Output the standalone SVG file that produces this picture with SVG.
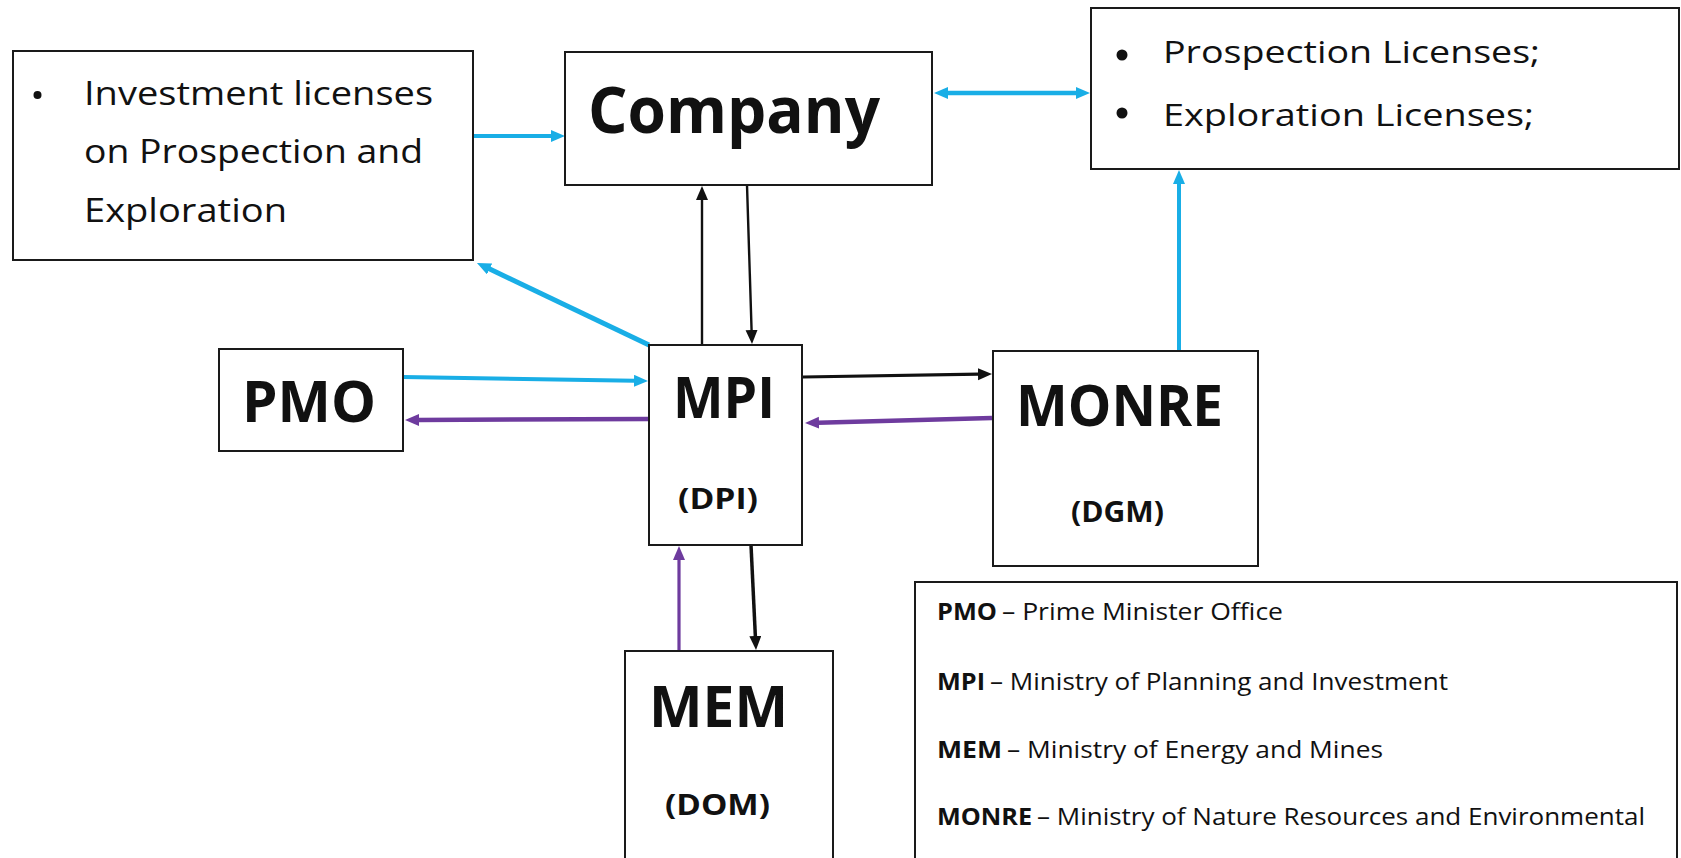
<svg xmlns="http://www.w3.org/2000/svg" width="1681" height="858" viewBox="0 0 1681 858">
<style>
.box{fill:#fff;stroke:#1a1a1a;stroke-width:2}
.t{font-family:"Open Sans","Liberation Sans",sans-serif;fill:#111}
.b{font-weight:bold}
.cy{stroke:#19aee6;fill:none}
.pu{stroke:#6e3b9e;fill:none}
.bk{stroke:#111;fill:none}
</style>
<defs>
<marker id="ac" markerUnits="userSpaceOnUse" markerWidth="15" markerHeight="13" refX="1" refY="6" orient="auto-start-reverse"><path d="M0,0 L14,6 L0,12 z" fill="#19aee6"/></marker>
<marker id="ap" markerUnits="userSpaceOnUse" markerWidth="15" markerHeight="13" refX="1" refY="6" orient="auto-start-reverse"><path d="M0,0 L14,6 L0,12 z" fill="#6e3b9e"/></marker>
<marker id="ak" markerUnits="userSpaceOnUse" markerWidth="15" markerHeight="13" refX="1" refY="6" orient="auto-start-reverse"><path d="M0,0 L14,6 L0,12 z" fill="#111"/></marker>
</defs>
<rect width="1681" height="858" fill="#fff"/>

<g id="connectors">
<line class="cy" stroke-width="4" x1="474" y1="136" x2="552" y2="136" marker-end="url(#ac)"/>
<line class="cy" stroke-width="4.5" x1="947" y1="93" x2="1077" y2="93" marker-start="url(#ac)" marker-end="url(#ac)"/>
<line class="cy" stroke-width="5" x1="649" y1="345" x2="488.7" y2="268.6" marker-end="url(#ac)"/>
<line class="bk" stroke-width="2.4" x1="702" y1="345" x2="702" y2="199" marker-end="url(#ak)"/>
<line class="bk" stroke-width="2.4" x1="747" y1="185" x2="751.6" y2="331" marker-end="url(#ak)"/>
<line class="cy" stroke-width="4" x1="403" y1="377" x2="635" y2="380.8" marker-end="url(#ac)"/>
<line class="pu" stroke-width="4.5" x1="648" y1="419" x2="418" y2="420" marker-end="url(#ap)"/>
<line class="bk" stroke-width="3.2" x1="803" y1="377" x2="979" y2="374.2" marker-end="url(#ak)"/>
<line class="pu" stroke-width="4.5" x1="992" y1="418" x2="818" y2="422.7" marker-end="url(#ap)"/>
<line class="cy" stroke-width="4" x1="1179" y1="351" x2="1179" y2="183" marker-end="url(#ac)"/>
<line class="pu" stroke-width="3.2" x1="679" y1="651" x2="679" y2="559" marker-end="url(#ap)"/>
<line class="bk" stroke-width="3.5" x1="751" y1="545" x2="755.4" y2="637" marker-end="url(#ak)"/>
</g>

<g id="investment">
<rect class="box" x="13" y="51" width="460" height="209"/>
<circle cx="37.5" cy="95" r="4" fill="#111"/>
<text class="t" x="84" y="105" font-size="32" textLength="349" lengthAdjust="spacingAndGlyphs">Investment licenses</text>
<text class="t" x="84" y="163" font-size="32" textLength="339" lengthAdjust="spacingAndGlyphs">on Prospection and</text>
<text class="t" x="84" y="222" font-size="32" textLength="203" lengthAdjust="spacingAndGlyphs">Exploration</text>
</g>

<g id="company">
<rect class="box" x="565" y="52" width="367" height="133"/>
<text class="t b" x="588" y="133" font-size="64" textLength="292" lengthAdjust="spacingAndGlyphs">Company</text>
</g>

<g id="licenses">
<rect class="box" x="1091" y="8" width="588" height="161"/>
<circle cx="1122" cy="55" r="5.5" fill="#111"/>
<circle cx="1122" cy="113" r="5.5" fill="#111"/>
<text class="t" x="1163" y="63" font-size="31" textLength="377" lengthAdjust="spacingAndGlyphs">Prospection Licenses;</text>
<text class="t" x="1163" y="126" font-size="31" textLength="371" lengthAdjust="spacingAndGlyphs">Exploration Licenses;</text>
</g>

<g id="pmo">
<rect class="box" x="219" y="349" width="184" height="102"/>
<text class="t b" x="242" y="422" font-size="57" textLength="134" lengthAdjust="spacingAndGlyphs">PMO</text>
</g>

<g id="mpi">
<rect class="box" x="649" y="345" width="153" height="200"/>
<text class="t b" x="673" y="418" font-size="57" textLength="102" lengthAdjust="spacingAndGlyphs">MPI</text>
<text class="t b" x="678" y="509" font-size="29" textLength="80" lengthAdjust="spacingAndGlyphs">(DPI)</text>
</g>

<g id="monre">
<rect class="box" x="993" y="351" width="265" height="215"/>
<text class="t b" x="1016" y="426" font-size="57" textLength="207" lengthAdjust="spacingAndGlyphs">MONRE</text>
<text class="t b" x="1071" y="522" font-size="29" textLength="93" lengthAdjust="spacingAndGlyphs">(DGM)</text>
</g>

<g id="mem">
<rect class="box" x="625" y="651" width="208" height="230"/>
<text class="t b" x="649" y="727" font-size="57" textLength="139" lengthAdjust="spacingAndGlyphs">MEM</text>
<text class="t b" x="665" y="815" font-size="29" textLength="105" lengthAdjust="spacingAndGlyphs">(DOM)</text>
</g>

<g id="legend">
<rect class="box" x="915" y="582" width="762" height="300"/>
<text class="t b" x="937" y="620" font-size="24" textLength="60" lengthAdjust="spacingAndGlyphs">PMO</text>
<text class="t" x="1002" y="620" font-size="24" textLength="281" lengthAdjust="spacingAndGlyphs">– Prime Minister Office</text>
<text class="t b" x="937" y="690" font-size="24" textLength="48" lengthAdjust="spacingAndGlyphs">MPI</text>
<text class="t" x="990" y="690" font-size="24" textLength="458" lengthAdjust="spacingAndGlyphs">– Ministry of Planning and Investment</text>
<text class="t b" x="937" y="758" font-size="24" textLength="65" lengthAdjust="spacingAndGlyphs">MEM</text>
<text class="t" x="1007" y="758" font-size="24" textLength="376" lengthAdjust="spacingAndGlyphs">– Ministry of Energy and Mines</text>
<text class="t b" x="937" y="825" font-size="24" textLength="95" lengthAdjust="spacingAndGlyphs">MONRE</text>
<text class="t" x="1037" y="825" font-size="24" textLength="608" lengthAdjust="spacingAndGlyphs">– Ministry of Nature Resources and Environmental</text>
</g>
</svg>
